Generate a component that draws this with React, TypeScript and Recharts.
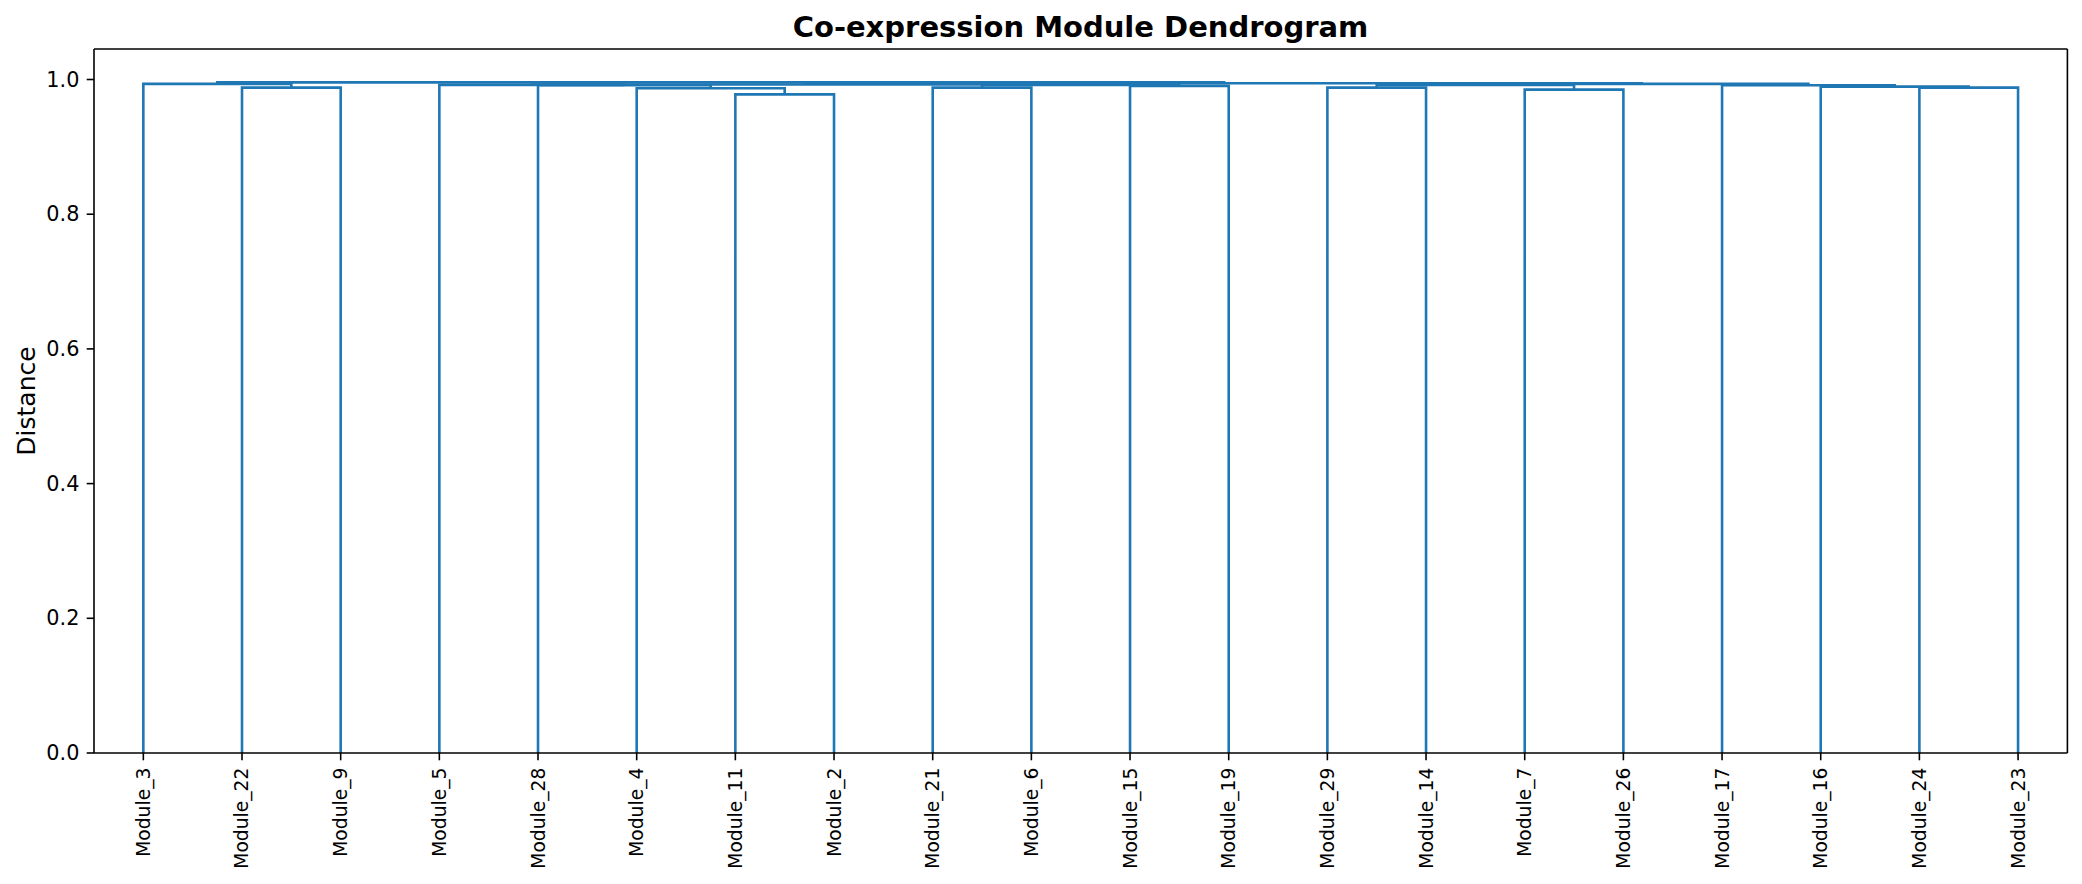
import React from 'react';
import { LineChart, Line, XAxis, YAxis, ReferenceLine } from 'recharts';

// Leaf order along the x axis (left to right)
const leafLabels = [
  'Module_3', 'Module_22', 'Module_9', 'Module_5', 'Module_28', 'Module_4', 'Module_11', 'Module_2',
  'Module_21', 'Module_6', 'Module_15', 'Module_19', 'Module_29', 'Module_14', 'Module_7', 'Module_26',
  'Module_17', 'Module_16', 'Module_24', 'Module_23',
];

// Linkage: [left child id, right child id, merge distance]; ids 0..19 are leaves, 20+ are merges in order
const mergeLeft = [1, 0, 6, 5, 4, 3, 8, 10, 26, 25, 12, 14, 30, 18, 17, 16, 32, 29, 21];
const mergeRight = [2, 20, 7, 22, 23, 24, 9, 11, 27, 28, 13, 15, 31, 19, 33, 34, 35, 36, 37];
const mergeHeight = [
  0.988, 0.9935, 0.978, 0.987, 0.9915, 0.992, 0.988, 0.9905, 0.992, 0.9925,
  0.988, 0.985, 0.992, 0.988, 0.9895, 0.9915, 0.9935, 0.9945, 0.9957,
];

const yTicks = [0, 0.2, 0.4, 0.6, 0.8, 1.0];
const yMax = 1.0453;
const xMax = 200;
const xTicks = leafLabels.map((_, i) => 5 + 10 * i);

type Pt = { x: number; y: number };

function buildLinks(): Pt[][] {
  const nodes: { x: number; h: number }[] = leafLabels.map((_, i) => ({ x: 5 + 10 * i, h: 0 }));
  const links: Pt[][] = [];
  mergeLeft.forEach((a, k) => {
    const b = mergeRight[k];
    const h = mergeHeight[k];
    const A = nodes[a];
    const B = nodes[b];
    links.push([
      { x: A.x, y: A.h },
      { x: A.x, y: h },
      { x: B.x, y: h },
      { x: B.x, y: B.h },
    ]);
    nodes.push({ x: (A.x + B.x) / 2, h });
  });
  return links;
}

const links = buildLinks();

const FONT = 'DejaVu Sans';
const LINE_COLOR = '#1f77b4';

const XTick = (props: any) => {
  const { x, y, payload } = props;
  const idx = Math.round((payload.value - 5) / 10);
  return (
    <text
      x={x}
      y={y}
      transform={`rotate(-90, ${x}, ${y})`}
      textAnchor="end"
      dominantBaseline="central"
      fontSize={18.7}
      fontFamily={FONT}
      fill="#000"
    >
      {leafLabels[idx]}
    </text>
  );
};

const YTick = (props: any) => {
  const { x, y, payload } = props;
  return (
    <text x={x} y={y} textAnchor="end" dominantBaseline="central" fontSize={20.8} fontFamily={FONT} fill="#000">
      {Number(payload.value).toFixed(1)}
    </text>
  );
};

export default function App() {
  const W = 2066;
  const H = 868;
  return (
    <div style={{ position: 'relative', width: W, height: H }}>
      <LineChart
        width={W}
        height={H}
        margin={{ top: 41, right: 6.6, bottom: 10, left: 0 }}
        style={{ fontFamily: FONT }}
      >
        <XAxis
          xAxisId="b"
          type="number"
          dataKey="x"
          domain={[0, xMax]}
          ticks={xTicks}
          interval={0}
          height={113}
          tick={<XTick />}
          tickSize={7.3}
          tickMargin={7.3}
          tickLine={{ stroke: '#000', strokeWidth: 1.6 }}
          axisLine={{ stroke: '#000', strokeWidth: 1.6 }}
          allowDataOverflow
        />
        <YAxis
          yAxisId="l"
          type="number"
          domain={[0, yMax]}
          ticks={yTicks}
          interval={0}
          width={86}
          tick={<YTick />}
          tickSize={7.3}
          tickMargin={7.3}
          tickLine={{ stroke: '#000', strokeWidth: 1.6 }}
          axisLine={{ stroke: '#000', strokeWidth: 1.6 }}
          allowDataOverflow
        />
        {links.map((d, i) => (
          <Line
            key={i}
            xAxisId="b"
            yAxisId="l"
            data={d}
            dataKey="y"
            type="linear"
            stroke={LINE_COLOR}
            strokeWidth={2.6}
            dot={false}
            activeDot={false}
            isAnimationActive={false}
            strokeLinejoin="miter"
            strokeLinecap="butt"
          />
        ))}
        <ReferenceLine xAxisId="b" yAxisId="l" y={yMax} stroke="#000" strokeWidth={1.6} ifOverflow="visible" />
        <ReferenceLine xAxisId="b" yAxisId="l" x={xMax} stroke="#000" strokeWidth={1.6} ifOverflow="visible" />
      </LineChart>
      <svg
        width={W}
        height={H}
        style={{ position: 'absolute', left: 0, top: 0, pointerEvents: 'none' }}
      >
        <text x={1072.5} y={28.5} textAnchor="middle" fontSize={29} fontWeight="bold" fontFamily={FONT} fill="#000">
          Co-expression Module Dendrogram
        </text>
        <text
          x={18.5}
          y={393}
          transform="rotate(-90, 18.5, 393)"
          textAnchor="middle"
          dominantBaseline="central"
          fontSize={25}
          fontFamily={FONT}
          fill="#000"
        >
          Distance
        </text>
      </svg>
    </div>
  );
}
